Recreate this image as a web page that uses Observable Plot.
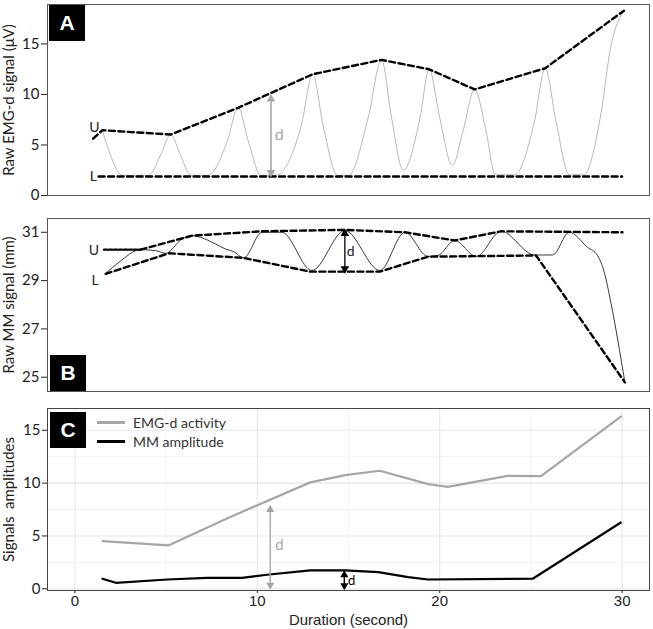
<!DOCTYPE html>
<html><head><meta charset="utf-8">
<script src="https://cdn.jsdelivr.net/npm/d3@7"></script>
<script src="https://cdn.jsdelivr.net/npm/@observablehq/plot@0.6"></script>
<style>
body{margin:0;background:#fff;}
#wrap{position:relative;width:653px;height:629px;overflow:hidden;background:#fff;}
.panel{position:absolute;left:0;overflow:visible;}
.tag{position:absolute;width:36px;height:36px;background:#000;color:#fff;font:bold 21px "Liberation Sans",Arial,sans-serif;display:flex;align-items:center;justify-content:center;}
.leg{position:absolute;left:97px;font:14px Lato,"Open Sans",sans-serif;color:#333;}
.leg div{display:flex;align-items:center;height:19px;}
.leg span.sw{display:inline-block;width:28px;height:2.4px;margin-right:8px;}
</style></head><body>
<div id="wrap"></div>
<script>
// ---------- Panel A: raw EMG-d signal ----------
const emgRaw = [[1.5,6.46],[1.91,4.2],[2.6,2.0],[4.05,2.0],[4.7,4.0],[5.25,6.03],[5.79,4.0],[6.35,2.0],[7.3,2.0],[8.34,5.3],[8.95,8.68],[9.52,5.3],[10.2,2.0],[11.0,2.0],[12.42,7.0],[13.04,12.0],[13.6,7.0],[14.4,2.0],[15.0,2.0],[16.08,7.7],[16.81,13.42],[17.36,7.7],[18.0,2.49],[18.9,7.5],[19.42,12.49],[20.0,7.7],[20.69,2.98],[21.27,6.3],[21.91,10.5],[22.55,6.3],[23.04,2.05],[24.1,2.05],[25.19,7.3],[25.78,12.59],[26.38,7.3],[27.1,2.05],[27.9,2.05],[28.83,8.0],[29.38,14.74],[30.1,18.29]];
const emgUpper = [[1.0,5.63],[1.51,6.46],[5.25,6.03],[8.95,8.68],[13.04,12.0],[16.81,13.42],[19.42,12.49],[21.91,10.5],[25.78,12.59],[30.1,18.29]];
const emgLower = [[1.3,1.88],[30.0,1.88]];
const emgTicks = [0,5,10,15];
const arrowA = [{x:10.75,y1:2.0,y2:9.84}];
const labelsA = [{x:1.07,y:6.73,t:"U"},{x:1.01,y:1.88,t:"L"}];
const dLabelA = [{x:11.2,y:6.03,t:"d"}];

// ---------- Panel B: raw MM signal ----------
const mmRaw = [[1.69,29.3],[2.42,29.76],[3.6,30.28],[4.43,30.24],[4.97,30.13],[5.88,30.72],[6.43,30.86],[6.89,30.79],[7.7,30.52],[8.25,30.31],[8.7,30.2],[9.25,29.94],[10.26,31.0],[11.35,31.0],[12.99,29.42],[14.8,31.07],[16.72,29.42],[18.09,31.0],[19.36,30.0],[19.9,30.04],[20.82,30.66],[22.0,30.0],[23.37,31.04],[25.19,30.06],[26.19,30.06],[27.1,31.0],[28.1,30.38],[28.65,30.04],[29.02,29.35],[29.38,28.1],[30.15,24.79]];
const mmUpperStart = [[1.6,30.28],[3.6,30.28]];
const mmUpper = [[3.6,30.28],[6.43,30.86],[10.26,31.04],[14.8,31.1],[18.09,31.0],[20.82,30.66],[23.37,31.04],[30.02,31.0]];
const mmLower = [[1.69,29.28],[5.16,30.13],[9.25,29.94],[12.9,29.37],[16.72,29.37],[19.36,29.99],[25.28,30.04],[30.15,24.79]];
const mmTicks = [25,27,29,31];
const arrowB = [{x:14.8,y1:29.37,y2:31.07}];
const labelsB = [{x:1.05,y:30.24,t:"U"},{x:1.11,y:29.0,t:"L"},{x:15.12,y:30.2,t:"d"}];

// ---------- Panel C: amplitudes ----------
const emgAmpX = [1.51,5.15,8.52,12.9,13.99,14.81,16.72,19.36,20.45,23.73,25.55,29.93];
const emgAmpY = [4.52,4.11,6.8,10.07,10.45,10.76,11.17,9.91,9.65,10.69,10.66,16.3];
const mmAmpX = [1.51,2.24,5.07,7.25,9.16,10.53,12.9,13.99,14.81,16.63,18.27,19.36,25.1,29.93];
const mmAmpY = [0.95,0.57,0.88,1.04,1.04,1.33,1.74,1.74,1.74,1.58,1.1,0.88,0.95,6.27];
const ampTicks = [0,5,10,15];
const ampMinor = [2.5,7.5,12.5];
const durTicks = [0,10,20,30];
const durMinor = [5,15,25];
const arrowsC = [{x:10.71,y1:0.1,y2:7.75,c:"#a6a6a6"},{x:14.77,y1:0.06,y2:1.58,c:"#000"}];
const dLabelsC = [{x:11.22,y:4.11,t:"d",c:"#a6a6a6",fs:15},{x:15.17,y:0.79,t:"d",c:"#000",fs:13}];

const X_DOMAIN = [-1.5, 31.5];
const px = d => d[0], py = d => d[1];
const common = {width:653, marginLeft:47, marginRight:4};
const fontMain = "Lato, 'Open Sans', sans-serif";

function arrowMarks(data, color, stroke, r) {
  return [
    Plot.link(data, {x1:"x", x2:"x", y1:"y1", y2:"y2", stroke: color ?? (d=>d.c), strokeWidth: stroke}),
    Plot.dot(data, {x:"x", y:"y2", symbol:"triangle", r, fill: color ?? (d=>d.c), stroke:"none", dy: r*0.9}),
    Plot.dot(data, {x:"x", y:"y1", symbol:"triangle", r, rotate:180, fill: color ?? (d=>d.c), stroke:"none", dy: -r*0.9})
  ];
}

const plotA = Plot.plot({
  ...common, height:200, marginTop:4, marginBottom:5,
  x:{domain:X_DOMAIN, axis:null},
  y:{domain:[0,18.9], axis:null},
  style:{fontFamily:fontMain, fontSize:"14px", color:"#222", background:"transparent", overflow:"visible"},
  marks:[
    Plot.axisY({ticks:emgTicks, tickSize:6, tickPadding:2, fontSize:15, label:"Raw EMG-d signal (μV)", labelAnchor:"center", labelArrow:"none", labelOffset:44}),
    Plot.line(emgRaw, {x:px, y:py, stroke:"#b8b8b8", strokeWidth:1, curve:"monotone-x"}),
    Plot.line(emgUpper, {x:px, y:py, stroke:"#000", strokeWidth:2.4, strokeDasharray:"6,3.5"}),
    Plot.line(emgLower, {x:px, y:py, stroke:"#000", strokeWidth:2.4, strokeDasharray:"6,3.5"}),
    ...arrowMarks(arrowA, "#a6a6a6", 1.6, 3.2),
    Plot.text(labelsA, {x:"x", y:"y", text:"t", fontSize:14, fill:"#222"}),
    Plot.text(dLabelA, {x:"x", y:"y", text:"t", fontSize:16, fill:"#a6a6a6"}),
    Plot.frame({stroke:"#555"})
  ]
});

const plotB = Plot.plot({
  ...common, height:195, marginTop:18, marginBottom:4,
  x:{domain:X_DOMAIN, axis:null},
  y:{domain:[24.41,31.57], axis:null},
  style:{fontFamily:fontMain, fontSize:"14px", color:"#222", background:"transparent", overflow:"visible"},
  marks:[
    Plot.axisY({ticks:mmTicks, tickSize:6, tickPadding:2, fontSize:15, label:"Raw MM signal (mm)", labelAnchor:"center", labelArrow:"none", labelOffset:44}),
    Plot.line(mmRaw, {x:px, y:py, stroke:"#222", strokeWidth:0.9, curve:"monotone-x"}),
    Plot.line(mmUpperStart, {x:px, y:py, stroke:"#000", strokeWidth:2.4, strokeDasharray:"3,2"}),
    Plot.line(mmUpper, {x:px, y:py, stroke:"#000", strokeWidth:2.4, strokeDasharray:"6,3.5"}),
    Plot.line(mmLower, {x:px, y:py, stroke:"#000", strokeWidth:2.4, strokeDasharray:"6,3.5"}),
    ...arrowMarks(arrowB, "#000", 1.3, 3.2),
    Plot.text(labelsB, {x:"x", y:"y", text:"t", fontSize:14, fill:"#222"}),
    Plot.frame({stroke:"#555"})
  ]
});

const emgAmp = emgAmpX.map((x,i)=>({x, y:emgAmpY[i]}));
const mmAmp = mmAmpX.map((x,i)=>({x, y:mmAmpY[i]}));
const plotC = Plot.plot({
  ...common, height:234, marginTop:13, marginBottom:39,
  x:{domain:X_DOMAIN, axis:null},
  y:{domain:[-0.16,17.06], axis:null},
  style:{fontFamily:fontMain, fontSize:"14px", color:"#222", background:"transparent", overflow:"visible"},
  marks:[
    Plot.gridX(durMinor, {stroke:"#ededed", strokeOpacity:1, strokeWidth:0.7}),
    Plot.gridY(ampMinor, {stroke:"#ededed", strokeOpacity:1, strokeWidth:0.7}),
    Plot.gridX(durTicks, {stroke:"#e6e6e6", strokeOpacity:1, strokeWidth:1.1}),
    Plot.gridY(ampTicks, {stroke:"#e6e6e6", strokeOpacity:1, strokeWidth:1.1}),
    Plot.axisY({ticks:ampTicks, tickSize:5, tickPadding:2, fontSize:15, label:"Signals  amplitudes", labelAnchor:"center", labelArrow:"none", labelOffset:44}),
    Plot.axisX({ticks:durTicks, tickSize:3, tickPadding:2, fontSize:15, fontFamily:"'Liberation Sans', Arial, sans-serif", label:"Duration (second)", labelAnchor:"center", labelArrow:"none", labelOffset:34}),
    Plot.line(emgAmp, {x:"x", y:"y", stroke:"#a6a6a6", strokeWidth:2.2}),
    Plot.line(mmAmp, {x:"x", y:"y", stroke:"#000", strokeWidth:2.2}),
    ...arrowMarks(arrowsC, null, 1.4, 3),
    Plot.text(dLabelsC, {x:"x", y:"y", text:"t", fontSize:d=>d.fs, fill:d=>d.c}),
    Plot.frame({stroke:"#444"})
  ]
});

const wrap = document.getElementById("wrap");
function place(node, top){ node.classList.add("panel"); node.style.top = top+"px"; wrap.appendChild(node); }
place(plotA, 0); place(plotB, 200); place(plotC, 395);

function tag(letter, left, top){ const d=document.createElement("div"); d.className="tag"; d.textContent=letter; d.style.left=left+"px"; d.style.top=top+"px"; wrap.appendChild(d); }
tag("A",49,5); tag("B",50,355); tag("C",50,412);

const legendItems = [{label:"EMG-d activity", color:"#a6a6a6"},{label:"MM amplitude", color:"#000"}];
const leg = document.createElement("div"); leg.className="leg"; leg.style.top="413px";
legendItems.forEach(it=>{ const row=document.createElement("div"); const sw=document.createElement("span"); sw.className="sw"; sw.style.background=it.color; const tx=document.createElement("span"); tx.textContent=it.label; row.appendChild(sw); row.appendChild(tx); leg.appendChild(row); });
wrap.appendChild(leg);
</script>
</body></html>
